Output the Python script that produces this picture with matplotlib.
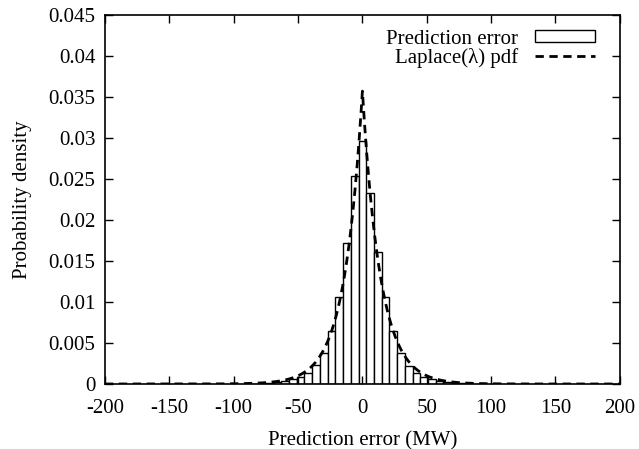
import numpy as np
import matplotlib
matplotlib.use('Agg')
import matplotlib.pyplot as plt

# histogram bins (centre, MW) and densities
bin_centers = [-90, -84, -78, -72, -66, -60, -54, -48, -42, -36, -30, -24, -18, -12, -6,
               0, 6, 12, 18, 24, 30, 36, 42, 48, 54, 60, 66, 72, 78, 84, 90]
density = [0.00003, 0.00005, 0.00008, 0.00012, 0.0002, 0.00037, 0.00057, 0.0009, 0.0014,
           0.0023, 0.0038, 0.0065, 0.0106, 0.0172, 0.0254,
           0.0296, 0.02325, 0.0161, 0.0106, 0.0065, 0.0038, 0.0022, 0.0014, 0.0008,
           0.00057, 0.00037, 0.0002, 0.00012, 0.00008, 0.00005, 0.00003]
bin_width = 6

# Laplace fit parameters
laplace_mu = 0.0
laplace_b = 14.0

x_ticks = [-200, -150, -100, -50, 0, 50, 100, 150, 200]
y_ticks = [0, 0.005, 0.01, 0.015, 0.02, 0.025, 0.03, 0.035, 0.04, 0.045]

plt.rcParams['font.family'] = 'Liberation Serif'
plt.rcParams['font.size'] = 15
plt.rcParams['axes.unicode_minus'] = False

fig = plt.figure(figsize=(6.39, 4.49), dpi=100)
ax = fig.add_axes([0.1643, 0.1448, 0.8057, 0.8218])

bars = ax.bar(bin_centers, density, width=bin_width, facecolor='white', edgecolor='black',
              linewidth=1.0)

xs = np.linspace(-200, 200, 2001)
pdf = np.exp(-np.abs(xs - laplace_mu) / laplace_b) / (2 * laplace_b)
line, = ax.plot(xs, pdf, color='black', linestyle=(0, (3, 2)), linewidth=2)

ax.set_xlim(-200, 200)
ax.set_ylim(0, 0.045)
ax.set_xticks(x_ticks)
ax.set_xticklabels([str(t) for t in x_ticks])
ax.set_yticks(y_ticks)
ax.set_yticklabels([f'{t:g}' for t in y_ticks])
ax.tick_params(direction='in', top=True, right=True, length=6, width=1)
ax.tick_params(axis='x', pad=11)
ax.tick_params(axis='y', pad=7)
for s in ax.spines.values():
    s.set_linewidth(1.2)

ax.set_xlabel('Prediction error (MW)', labelpad=9)
ax.set_ylabel('Probability density', labelpad=12)

ax.legend([bars, line], ['Prediction error', 'Laplace(λ) pdf'],
          loc='upper right', bbox_to_anchor=(0.981, 1.0), frameon=False, markerfirst=False,
          handlelength=2.9, borderaxespad=0.3, labelspacing=-0.05, handletextpad=0.8,
          handleheight=0.5)

fig.savefig('out.png', dpi=100)
